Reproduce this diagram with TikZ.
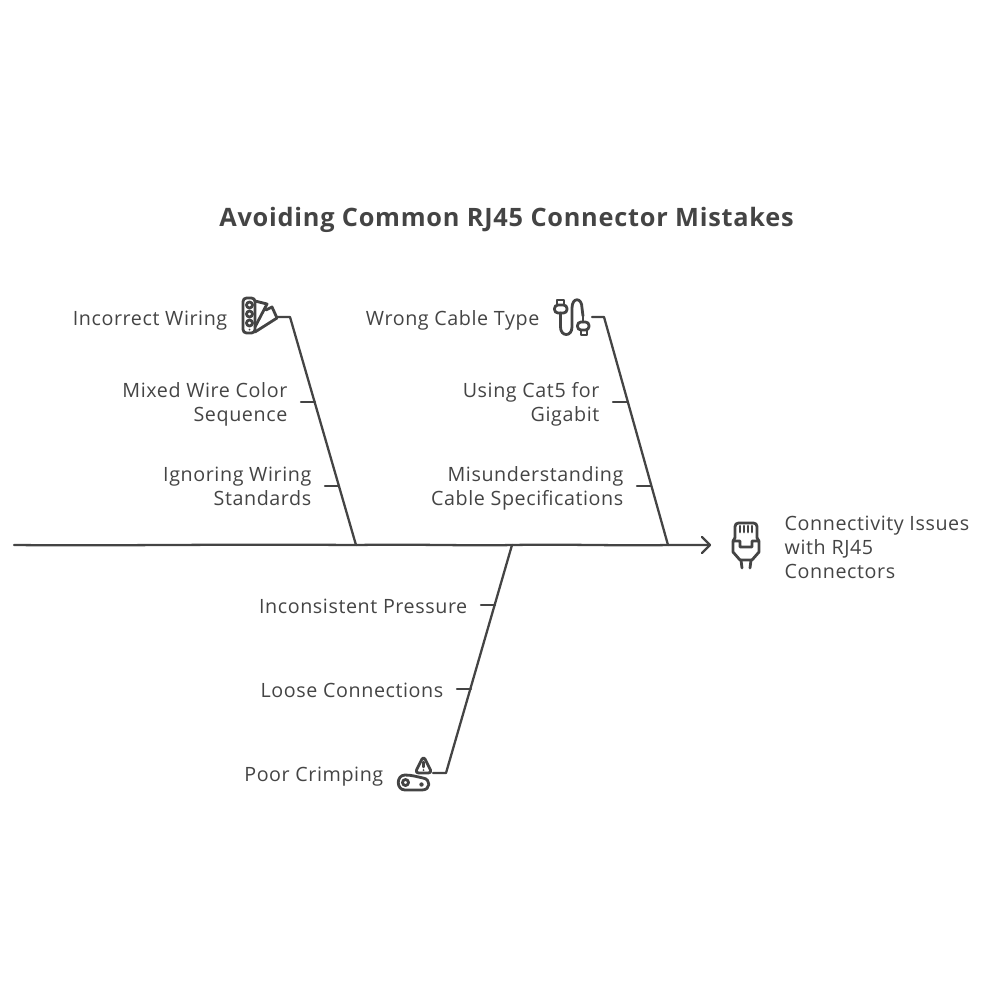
\documentclass[tikz,border=0pt]{standalone}
\usepackage{fontspec}
\setmainfont[LetterSpace=3]{Open Sans}
\definecolor{ink}{HTML}{444444}
\tikzset{
  bone/.style={draw=ink,line width=.65pt,line cap=round,line join=round},
  icon/.style={draw=ink,line width=.8pt,line cap=round,line join=round},
  cause/.style={text=ink,font=\fontsize{5.6}{6.8}\selectfont,anchor=east,align=right,inner sep=0pt},
  effect/.style={text=ink,font=\fontsize{5.6}{6.8}\selectfont,anchor=west,align=left,inner sep=0pt},
  heading/.style={text=ink,font=\fontsize{7.2}{9}\selectfont\bfseries,inner sep=0pt}
}
\begin{document}
\begin{tikzpicture}[x=.01cm,y=-.01cm]
    \useasboundingbox (0,0) rectangle (1000,1000);
    \node[heading] (title) at (506.5,220) {Avoiding Common RJ45 Connector Mistakes};
    % causes
    \node[cause] (wiring) at (228,321) {Incorrect Wiring};
    \node[cause] (mixed) at (288,404) {Mixed Wire Color\\Sequence};
    \node[cause] (ignoring) at (312,486) {Ignoring Wiring\\Standards};
    \node[cause] (cable) at (540,320) {Wrong Cable Type};
    \node[cause] (cat) at (600,404) {Using Cat5 for\\Gigabit};
    \node[cause] (specs) at (624,488) {Misunderstanding\\Cable Specifications};
    \node[cause] (pressure) at (468,606) {Inconsistent Pressure};
    \node[cause] (loose) at (444,690) {Loose Connections};
    \node[cause] (crimp) at (384,777) {Poor Crimping};
    \node[effect] (issues) at (784,547) {Connectivity Issues\\with RJ45\\Connectors};
    % spine
    \coordinate (tail) at (14,545);
    \coordinate (head) at (710,545);
    \coordinate (footA) at (356,545);
    \coordinate (footB) at (668,545);
    \coordinate (footC) at (512,545);
    \draw[bone] (tail) .. controls (120,546) and (200,544) .. (footA)
      .. controls (420,544) and (470,546) .. (footC)
      .. controls (570,544) and (620,546) .. (footB) -- (head);
    \draw[bone] (702,537) -- (head) -- (702,553);
    % bones
    \coordinate (topA) at (290,317);
    \coordinate (topB) at (604,317);
    \coordinate (topC) at (446,773);
    \draw[bone] (278,317) -- (topA) -- (footA);
    \draw[bone] (592,317) -- (topB) -- (footB);
    \draw[bone] (433,773) -- (topC) -- (footC);
    % ticks
    \coordinate (tickmixed) at (301,402);
    \coordinate (tickignoring) at (325,486);
    \coordinate (tickcat) at (613,402);
    \coordinate (tickspecs) at (637,486);
    \coordinate (tickpressure) at (481,605);
    \coordinate (tickloose) at (457,689);
    \draw[bone] (tickmixed) -- +(14,0);
    \draw[bone] (tickignoring) -- +(14,0);
    \draw[bone] (tickcat) -- +(14,0);
    \draw[bone] (tickspecs) -- +(14,0);
    \draw[bone] (tickpressure) -- +(14,0);
    \draw[bone] (tickloose) -- +(14,0);
    % swatch fan
    \draw[icon,rounded corners=1] (243,298) rectangle (255,333);
    \draw[icon] (249.5,305) circle (3);
    \draw[icon] (249.5,314) circle (3);
    \draw[icon] (249.5,323) circle (3);
    \fill[ink] (249.5,329.5) circle (1);
    \draw[icon] (255,301) -- (267,304) -- (255,327);
    \draw[icon] (266,310) -- (272,307) -- (277,318) -- (255,332);
    % patch cable
    \draw[icon] (557,300) rectangle (564,305);
    \draw[icon,rounded corners=1] (554.5,305) rectangle (567,313);
    \draw[icon] (560.5,313) -- (560.5,327) .. controls (560.5,337) and (572,337) .. (572,327)
      -- (572,308) .. controls (572,297) and (582,297) .. (582,308) -- (583,316);
    \draw[icon] (583,316) -- (583,322);
    \draw[icon,rounded corners=1] (577.5,322) rectangle (589,330);
    \draw[icon] (581,330) rectangle (587,335);
    % plug
    \draw[icon,rounded corners=1] (735,538) -- (735,523) -- (757,523) -- (757,538);
    \draw[icon] (733,541) -- (735,538);
    \draw[icon] (759,541) -- (757,538);
    \draw[icon] (733,541) -- (740,541) -- (740,547) -- (752,547) -- (752,541) -- (759,541)
      -- (759,552) -- (752,560) -- (740,560) -- (733,552) -- cycle;
    \draw[icon] (740,526) -- (740,532);
    \draw[icon] (744,526) -- (744,532);
    \draw[icon] (748,526) -- (748,532);
    \draw[icon] (752,526) -- (752,532);
    \draw[icon] (741,560) -- (742,568);
    \draw[icon] (751,560) -- (750,568);
    % warning link
    \draw[icon,rounded corners=1] (423.5,756) -- (432,773) -- (415,773) -- cycle;
    \draw[icon] (423.5,762) -- (423.5,767);
    \fill[ink] (423.5,770) circle (1);
    \draw[icon] (405,775) .. controls (412,775) and (418,777) .. (423,778)
      .. controls (431,779) and (431,790) .. (422,790) .. controls (416,790) and (410,790) .. (405,790)
      .. controls (396,790) and (396,775) .. (405,775) -- cycle;
    \draw[icon] (405.5,782.5) circle (3);
    \fill[ink] (421.5,784.5) circle (2.2);
\end{tikzpicture}
\end{document}
